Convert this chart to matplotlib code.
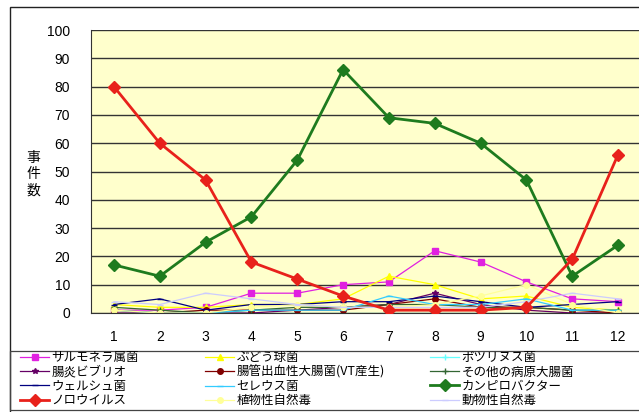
import matplotlib
matplotlib.use('Agg')
import matplotlib.pyplot as plt
from matplotlib.patches import Rectangle

plt.rcParams['font.family'] = ['Noto Sans CJK JP', 'DejaVu Sans']

months = [1, 2, 3, 4, 5, 6, 7, 8, 9, 10, 11, 12]

salmonella = [1, 1, 2, 7, 7, 10, 11, 22, 18, 11, 5, 4]
staph = [3, 2, 2, 3, 3, 5, 13, 10, 5, 6, 2, 1]
botulinum = [0, 0, 0, 0, 0, 0, 0, 0, 0, 0, 0, 0]
vibrio = [0, 0, 0, 0, 1, 2, 3, 7, 3, 1, 0, 0]
ehec = [1, 0, 1, 1, 1, 1, 3, 5, 2, 2, 1, 0]
other_ecoli = [2, 1, 0, 1, 2, 2, 3, 3, 2, 2, 1, 1]
welchii = [3, 5, 1, 3, 3, 4, 4, 6, 4, 2, 3, 4]
cereus = [1, 0, 0, 1, 1, 1, 6, 3, 3, 5, 1, 1]
campylobacter = [17, 13, 25, 34, 54, 86, 69, 67, 60, 47, 13, 24]
norovirus = [80, 60, 47, 18, 12, 6, 1, 1, 1, 2, 19, 56]
plant_toxin = [1, 0, 0, 2, 3, 2, 2, 3, 6, 10, 3, 0]
animal_toxin = [4, 3, 7, 5, 3, 2, 2, 2, 2, 4, 7, 5]

series = [
    ('サルモネラ属菌', salmonella, '#E020E0', 's', 5, 0.9),
    ('ぶどう球菌', staph, '#FFFF00', '^', 5, 0.9),
    ('ボツリヌス菌', botulinum, '#66FFFF', '+', 4, 0.9),
    ('腸炎ビブリオ', vibrio, '#660066', '*', 4, 0.9),
    ('腸管出血性大腸菌(VT産生)', ehec, '#800000', 'o', 4, 0.9),
    ('その他の病原大腸菌', other_ecoli, '#336633', '+', 4, 0.9),
    ('ウェルシュ菌', welchii, '#000080', '_', 4, 0.9),
    ('セレウス菌', cereus, '#33CCFF', '_', 4, 0.9),
    ('カンピロバクター', campylobacter, '#1E7B1E', 'D', 6, 2.0),
    ('ノロウイルス', norovirus, '#E8211B', 'D', 6, 2.0),
    ('植物性自然毒', plant_toxin, '#FFFF99', 'o', 4, 0.9),
    ('動物性自然毒', animal_toxin, '#CCCCFF', '_', 4, 0.9),
]

fig = plt.figure(figsize=(6.39, 4.12), dpi=100)
fig.patch.set_facecolor('white')

# outer chart border and legend box
fig.patches.append(Rectangle((10 / 639, -0.1), 1.2, (412 - 7) / 412 + 0.1,
                             transform=fig.transFigure, fill=False,
                             edgecolor='#222222', linewidth=1.0))
fig.patches.append(Rectangle((10 / 639, 2 / 412), 1.2, (412 - 351 - 2) / 412,
                             transform=fig.transFigure, fill=False,
                             edgecolor='#444444', linewidth=0.9))

ax = fig.add_axes([91 / 639, 99 / 412, 550 / 639, 283 / 412])
ax.set_facecolor('#FFFFCC')

handles = []
for name, vals, color, marker, ms, lw in series:
    h, = ax.plot(months, vals, color=color, marker=marker, markersize=ms,
                 linewidth=lw, markeredgecolor=color, markerfacecolor=color,
                 label=name, zorder=3 if lw > 1 else 2)
    handles.append(h)

ax.set_xlim(0.5, 12.5)
ax.set_ylim(0, 100)
ax.set_yticks(range(0, 101, 10))
ax.set_xticks(months)
ax.yaxis.grid(True, color='#333333', linewidth=1.0)
ax.set_axisbelow(True)
for s in ['top', 'right']:
    ax.spines[s].set_visible(False)
ax.spines['left'].set_color('#333333')
ax.spines['bottom'].set_color('#333333')
ax.tick_params(length=0, labelsize=10)
for lab in ax.get_xticklabels() + ax.get_yticklabels():
    lab.set_fontfamily(['Liberation Sans', 'DejaVu Sans'])
ax.tick_params(axis='y', pad=15)
ax.tick_params(axis='x', pad=12)

fig.text(33 / 639, 1 - 174 / 412, '事\n件\n数', fontsize=10, ha='center',
         va='center', linespacing=1.2)

# legend: three columns, filled row by row
col_x = [19 / 639, 204 / 639, 429 / 639]
for c in range(3):
    hs = handles[c::3]
    fig.legend(handles=hs, labels=[h.get_label() for h in hs],
               loc='upper left', bbox_to_anchor=(col_x[c], 1 - 350 / 412),
               frameon=False, fontsize=9, handlelength=2.3, handletextpad=0.2,
               labelspacing=0.1, borderpad=0.1, borderaxespad=0)

fig.savefig('out.png', dpi=100)
